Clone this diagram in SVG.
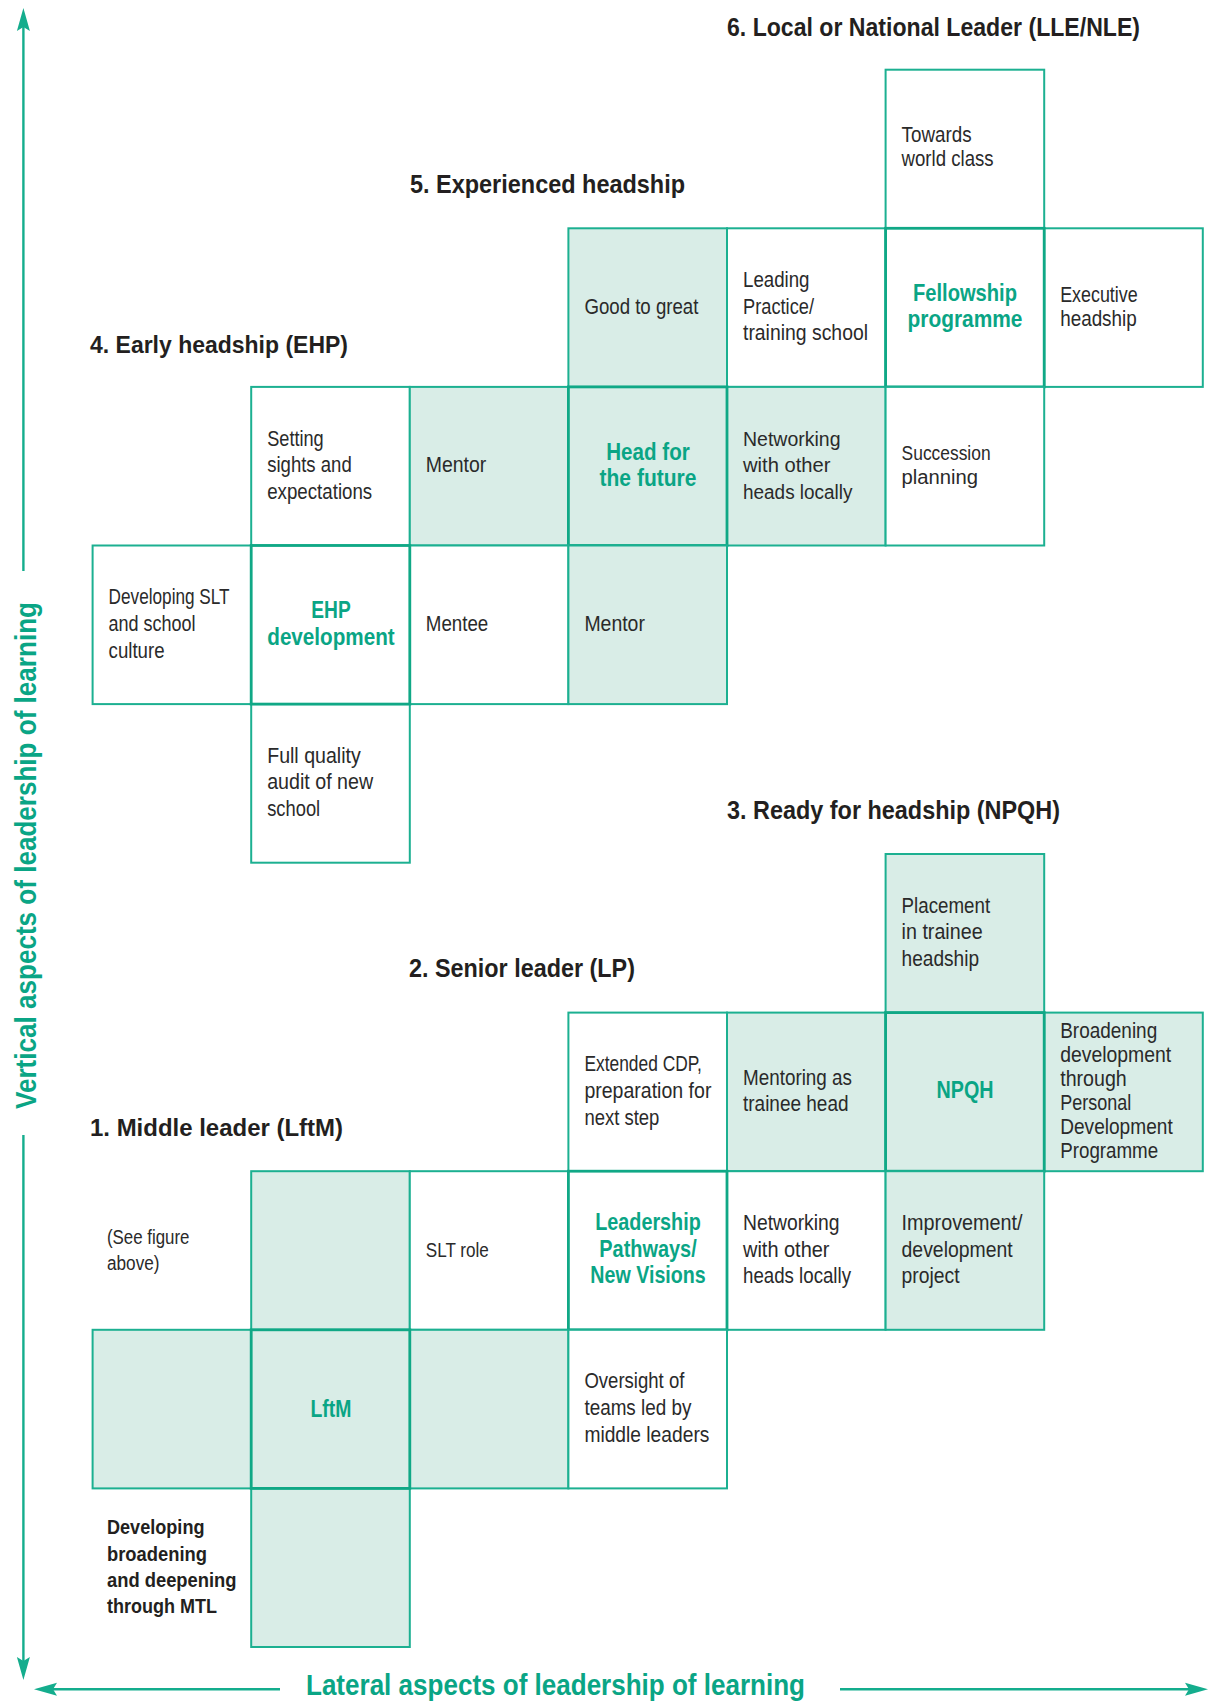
<svg xmlns="http://www.w3.org/2000/svg" width="1213" height="1701" viewBox="0 0 1213 1701">
<style>
.w{fill:#ffffff;stroke:#1cb091;stroke-width:2}
.s{fill:#d9ede7;stroke:#1cb091;stroke-width:2}
.k{stroke-width:2.8;stroke:#10a886}
text{font-family:"Liberation Sans",Arial,sans-serif}
.t{font-size:21.5px;fill:#2a2a2a}
.tw{font-size:20px;fill:#2a2a2a}
.b{font-weight:bold;font-size:24px;fill:#0aa585;text-anchor:middle}
.bw{font-weight:bold;font-size:23px;fill:#0aa585;text-anchor:middle}
.d{font-weight:bold;font-size:20px;fill:#231f20}
.h{font-weight:bold;font-size:25px;fill:#231f20}
.hw{font-weight:bold;font-size:23px;fill:#231f20}
.ax{font-weight:bold;font-size:29px;fill:#0aa585;text-anchor:middle}
.ln{stroke:#14ad8d;stroke-width:2.4;fill:none}
</style>
<defs>
<marker id="ah" viewBox="0 0 24 14" refX="6" refY="7" markerWidth="24" markerHeight="14" markerUnits="userSpaceOnUse" orient="auto">
<path d="M0,0.5 L23,7 L0,13.5 L4,7 Z" fill="#14ad8d"/>
</marker>
</defs>

<g id="headings">
<text class="h" x="727" y="36" textLength="413" lengthAdjust="spacingAndGlyphs">6. Local or National Leader (LLE/NLE)</text>
<text class="h" x="410" y="193" textLength="275" lengthAdjust="spacingAndGlyphs">5. Experienced headship</text>
<text class="hw" x="90" y="352.7" textLength="258" lengthAdjust="spacingAndGlyphs">4. Early headship (EHP)</text>
<text class="h" x="727" y="819" textLength="333" lengthAdjust="spacingAndGlyphs">3. Ready for headship (NPQH)</text>
<text class="h" x="409" y="976.5" textLength="226" lengthAdjust="spacingAndGlyphs">2. Senior leader (LP)</text>
<text class="hw" x="90" y="1136" textLength="253" lengthAdjust="spacingAndGlyphs">1. Middle leader (LftM)</text>
</g>

<!-- Top section -->
<g id="towards-world-class"><rect class="w" x="885.6" y="69.7" width="158.6" height="158.6"/>
<text class="t" x="901.6" y="142" textLength="70" lengthAdjust="spacingAndGlyphs">Towards</text><text class="t" x="901.6" y="166" textLength="92" lengthAdjust="spacingAndGlyphs">world class</text></g>

<g id="good-to-great"><rect class="s" x="568.4" y="228.3" width="158.6" height="158.6"/>
<text class="t" x="584.4" y="313.6" textLength="114" lengthAdjust="spacingAndGlyphs">Good to great</text></g>

<g id="leading-practice"><rect class="w" x="727" y="228.3" width="158.6" height="158.6"/>
<text class="t" x="743" y="286.9" textLength="66.5" lengthAdjust="spacingAndGlyphs">Leading</text><text class="t" x="743" y="313.6" textLength="71" lengthAdjust="spacingAndGlyphs">Practice/</text><text class="t" x="743" y="340.3" textLength="125" lengthAdjust="spacingAndGlyphs">training school</text></g>

<g id="executive-headship"><rect class="w" x="1044.2" y="228.3" width="158.6" height="158.6"/>
<text class="t" x="1060.2" y="301.6" textLength="77.5" lengthAdjust="spacingAndGlyphs">Executive</text><text class="t" x="1060.2" y="325.6" textLength="76.5" lengthAdjust="spacingAndGlyphs">headship</text></g>

<g id="fellowship-programme"><rect class="w k" x="885.6" y="228.3" width="158.6" height="158.6"/>
<text class="b" x="965" y="300.6" textLength="104" lengthAdjust="spacingAndGlyphs">Fellowship</text><text class="b" x="965" y="326.6" textLength="115" lengthAdjust="spacingAndGlyphs">programme</text></g>

<g id="setting-sights"><rect class="w" x="251.2" y="386.9" width="158.6" height="158.6"/>
<text class="t" x="267.2" y="445.5" textLength="56.5" lengthAdjust="spacingAndGlyphs">Setting</text><text class="t" x="267.2" y="472.2" textLength="84.5" lengthAdjust="spacingAndGlyphs">sights and</text><text class="t" x="267.2" y="498.9" textLength="105" lengthAdjust="spacingAndGlyphs">expectations</text></g>

<g id="mentor-ehp-top"><rect class="s" x="409.8" y="386.9" width="158.6" height="158.6"/>
<text class="t" x="425.8" y="472.2" textLength="60.5" lengthAdjust="spacingAndGlyphs">Mentor</text></g>

<g id="networking-heads-top"><rect class="s" x="727" y="386.9" width="158.6" height="158.6"/>
<text class="tw" x="743" y="445.5" textLength="97.5" lengthAdjust="spacingAndGlyphs">Networking</text><text class="tw" x="743" y="472.1" textLength="87.5" lengthAdjust="spacingAndGlyphs">with other</text><text class="tw" x="743" y="498.7" textLength="109.5" lengthAdjust="spacingAndGlyphs">heads locally</text></g>

<g id="succession-planning"><rect class="w" x="885.6" y="386.9" width="158.6" height="158.6"/>
<text class="tw" x="901.6" y="460.2" textLength="89" lengthAdjust="spacingAndGlyphs">Succession</text><text class="tw" x="901.6" y="484.2" textLength="76.5" lengthAdjust="spacingAndGlyphs">planning</text></g>

<g id="head-for-the-future"><rect class="s k" x="568.4" y="386.9" width="158.6" height="158.6"/>
<text class="b" x="648" y="459.5" textLength="83.5" lengthAdjust="spacingAndGlyphs">Head for</text><text class="b" x="648" y="486.2" textLength="97" lengthAdjust="spacingAndGlyphs">the future</text></g>

<g id="developing-slt"><rect class="w" x="92.6" y="545.5" width="158.6" height="158.6"/>
<text class="t" x="108.6" y="604.1" textLength="121" lengthAdjust="spacingAndGlyphs">Developing SLT</text><text class="t" x="108.6" y="630.8" textLength="87" lengthAdjust="spacingAndGlyphs">and school</text><text class="t" x="108.6" y="657.5" textLength="56" lengthAdjust="spacingAndGlyphs">culture</text></g>

<g id="mentee"><rect class="w" x="409.8" y="545.5" width="158.6" height="158.6"/>
<text class="t" x="425.8" y="630.8" textLength="62.5" lengthAdjust="spacingAndGlyphs">Mentee</text></g>

<g id="mentor-ehp-right"><rect class="s" x="568.4" y="545.5" width="158.6" height="158.6"/>
<text class="t" x="584.4" y="630.8" textLength="60.5" lengthAdjust="spacingAndGlyphs">Mentor</text></g>

<g id="full-quality-audit"><rect class="w" x="251.2" y="704.1" width="158.6" height="158.6"/>
<text class="t" x="267.2" y="762.7" textLength="93.5" lengthAdjust="spacingAndGlyphs">Full quality</text><text class="t" x="267.2" y="789.4" textLength="106" lengthAdjust="spacingAndGlyphs">audit of new</text><text class="t" x="267.2" y="816.1" textLength="53" lengthAdjust="spacingAndGlyphs">school</text></g>

<g id="ehp-development"><rect class="w k" x="251.2" y="545.5" width="158.6" height="158.6"/>
<text class="b" x="331" y="618.1" textLength="39.5" lengthAdjust="spacingAndGlyphs">EHP</text><text class="b" x="331" y="644.8" textLength="127.5" lengthAdjust="spacingAndGlyphs">development</text></g>

<!-- Bottom section -->
<g id="placement-trainee"><rect class="s" x="885.6" y="854" width="158.6" height="158.6"/>
<text class="t" x="901.6" y="912.6" textLength="88.5" lengthAdjust="spacingAndGlyphs">Placement</text><text class="t" x="901.6" y="939.3" textLength="81" lengthAdjust="spacingAndGlyphs">in trainee</text><text class="t" x="901.6" y="966" textLength="77.5" lengthAdjust="spacingAndGlyphs">headship</text></g>

<g id="extended-cdp"><rect class="w" x="568.4" y="1012.6" width="158.6" height="158.6"/>
<text class="t" x="584.4" y="1071.2" textLength="117.5" lengthAdjust="spacingAndGlyphs">Extended CDP,</text><text class="t" x="584.4" y="1097.9" textLength="127" lengthAdjust="spacingAndGlyphs">preparation for</text><text class="t" x="584.4" y="1124.6" textLength="75" lengthAdjust="spacingAndGlyphs">next step</text></g>

<g id="mentoring-trainee"><rect class="s" x="727" y="1012.6" width="158.6" height="158.6"/>
<text class="t" x="743" y="1084.9" textLength="109" lengthAdjust="spacingAndGlyphs">Mentoring as</text><text class="t" x="743" y="1110.9" textLength="105.5" lengthAdjust="spacingAndGlyphs">trainee head</text></g>

<g id="broadening-pdp"><rect class="s" x="1044.2" y="1012.6" width="158.6" height="158.6"/>
<text class="t" x="1060.2" y="1037.9" textLength="97" lengthAdjust="spacingAndGlyphs">Broadening</text><text class="t" x="1060.2" y="1061.9" textLength="111" lengthAdjust="spacingAndGlyphs">development</text><text class="t" x="1060.2" y="1085.9" textLength="66.5" lengthAdjust="spacingAndGlyphs">through</text><text class="t" x="1060.2" y="1109.9" textLength="71" lengthAdjust="spacingAndGlyphs">Personal</text><text class="t" x="1060.2" y="1133.9" textLength="112.5" lengthAdjust="spacingAndGlyphs">Development</text><text class="t" x="1060.2" y="1157.9" textLength="98" lengthAdjust="spacingAndGlyphs">Programme</text></g>

<g id="npqh"><rect class="s k" x="885.6" y="1012.6" width="158.6" height="158.6"/>
<text class="b" x="965" y="1098" textLength="57" lengthAdjust="spacingAndGlyphs">NPQH</text></g>

<g id="see-figure"><text class="tw" x="107" y="1243.5" textLength="82.5" lengthAdjust="spacingAndGlyphs">(See figure</text><text class="tw" x="107" y="1269.5" textLength="52.5" lengthAdjust="spacingAndGlyphs">above)</text></g>

<g id="lftm-up"><rect class="s" x="251.2" y="1171.2" width="158.6" height="158.6"/></g>

<g id="slt-role"><rect class="w" x="409.8" y="1171.2" width="158.6" height="158.6"/>
<text class="tw" x="425.8" y="1256.5" textLength="63" lengthAdjust="spacingAndGlyphs">SLT role</text></g>

<g id="networking-heads-bottom"><rect class="w" x="727" y="1171.2" width="158.6" height="158.6"/>
<text class="t" x="743" y="1229.9" textLength="96.5" lengthAdjust="spacingAndGlyphs">Networking</text><text class="t" x="743" y="1256.5" textLength="86.5" lengthAdjust="spacingAndGlyphs">with other</text><text class="t" x="743" y="1283.1" textLength="108" lengthAdjust="spacingAndGlyphs">heads locally</text></g>

<g id="improvement-project"><rect class="s" x="885.6" y="1171.2" width="158.6" height="158.6"/>
<text class="t" x="901.6" y="1229.9" textLength="121" lengthAdjust="spacingAndGlyphs">Improvement/</text><text class="t" x="901.6" y="1256.5" textLength="111" lengthAdjust="spacingAndGlyphs">development</text><text class="t" x="901.6" y="1283.1" textLength="58" lengthAdjust="spacingAndGlyphs">project</text></g>

<g id="leadership-pathways"><rect class="w k" x="568.4" y="1171.2" width="158.6" height="158.6"/>
<text class="b" x="648" y="1229.9" textLength="105.5" lengthAdjust="spacingAndGlyphs">Leadership</text><text class="b" x="648" y="1256.5" textLength="97.5" lengthAdjust="spacingAndGlyphs">Pathways/</text><text class="b" x="648" y="1283.1" textLength="115.5" lengthAdjust="spacingAndGlyphs">New Visions</text></g>

<g id="lftm-left"><rect class="s" x="92.6" y="1329.8" width="158.6" height="158.6"/></g>

<g id="lftm-right"><rect class="s" x="409.8" y="1329.8" width="158.6" height="158.6"/></g>

<g id="oversight-teams"><rect class="w" x="568.4" y="1329.8" width="158.6" height="158.6"/>
<text class="t" x="584.4" y="1388.4" textLength="100" lengthAdjust="spacingAndGlyphs">Oversight of</text><text class="t" x="584.4" y="1415" textLength="107" lengthAdjust="spacingAndGlyphs">teams led by</text><text class="t" x="584.4" y="1441.6" textLength="125" lengthAdjust="spacingAndGlyphs">middle leaders</text></g>

<g id="lftm-down"><rect class="s" x="251.2" y="1488.4" width="158.6" height="158.6"/></g>

<g id="lftm"><rect class="s k" x="251.2" y="1329.8" width="158.6" height="158.6"/>
<text class="bw" x="331" y="1416.7" textLength="41" lengthAdjust="spacingAndGlyphs">LftM</text></g>

<g id="developing-mtl"><text class="d" x="107" y="1534.1" textLength="97.5" lengthAdjust="spacingAndGlyphs">Developing</text><text class="d" x="107" y="1560.5" textLength="100" lengthAdjust="spacingAndGlyphs">broadening</text><text class="d" x="107" y="1586.9" textLength="129.5" lengthAdjust="spacingAndGlyphs">and deepening</text><text class="d" x="107" y="1613.3" textLength="110" lengthAdjust="spacingAndGlyphs">through MTL</text></g>

<g id="connectors">
<line class="ln" x1="23.4" y1="571" x2="23.4" y2="25" marker-end="url(#ah)"/>
<line class="ln" x1="23.4" y1="1135" x2="23.4" y2="1663" marker-end="url(#ah)"/>
<line class="ln" x1="280" y1="1689.3" x2="51" y2="1689.3" marker-end="url(#ah)"/>
<line class="ln" x1="840" y1="1689.3" x2="1191" y2="1689.3" marker-end="url(#ah)"/>
<text class="ax" transform="translate(35.5,855.5) rotate(-90)" textLength="507" lengthAdjust="spacingAndGlyphs">Vertical aspects of leadership of learning</text>
<text class="ax" x="555.5" y="1694.5" textLength="499" lengthAdjust="spacingAndGlyphs">Lateral aspects of leadership of learning</text>
</g>
</svg>
